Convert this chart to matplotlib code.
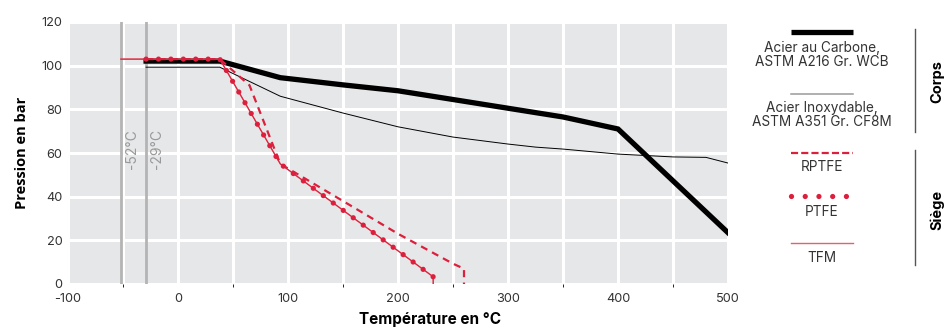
import matplotlib
matplotlib.use("Agg")
import matplotlib.pyplot as plt

plt.rcParams['font.family'] = ['Inter', 'DejaVu Sans']
plt.rcParams['axes.unicode_minus'] = False

# corps (body) ratings
t_wcb = [-29, 38, 93, 150, 200, 250, 300, 350, 400, 500]
p_wcb = [102.1, 102.1, 94.5, 91.2, 88.5, 84.5, 80.5, 76.5, 71, 23.5]
t_cf8m = [-29, 38, 93, 150, 200, 250, 300, 325, 350, 400, 450, 480, 500]
p_cf8m = [99.3, 99.3, 86, 78.3, 72, 67.3, 64.1, 62.7, 61.8, 59.5, 58.2, 58, 55.4]

# siège (seat) ratings
t_rptfe = [-29, 38, 65, 93, 150, 200, 250, 260, 260]
p_rptfe = [103, 103, 91, 55, 38, 23, 9.3, 7, 0]
t_ptfe = [-29, 38, 93, 232, 232]
p_ptfe = [103, 103, 55, 3.3, 0]
t_tfm = [-52, 38, 93, 232, 232]
p_tfm = [103, 103, 55, 3.3, 0]

limits = [-52, -29]
xticks = [-100, 0, 100, 200, 300, 400, 500]
yticks = [0, 20, 40, 60, 80, 100, 120]

red = '#dc1f3c'
red_light = '#e4606c'
txt = '#333333'

fig = plt.figure(figsize=(9.47, 3.29), dpi=100)
ax = fig.add_axes([68/947, 1-284/329, 660/947, 262/329])
ax.set_facecolor('#e6e7e8')
ax.set_xlim(-100, 500)
ax.set_ylim(0, 120)
ax.set_xticks(xticks)
ax.set_yticks(yticks)
ax.set_xticks(range(-50, 500, 100), minor=True)
ax.grid(True, which='both', color='white', lw=2.2)
ax.set_axisbelow(True)
for s in ax.spines.values():
    s.set_visible(False)
ax.tick_params(length=0, labelsize=9.2, labelcolor=txt, pad=4)
ax.tick_params(axis='x', pad=6.5)
ax.set_xlabel('Température en °C', fontsize=11, fontweight='bold')
ax.xaxis.set_label_coords(0.548, -0.105)
ax.set_ylabel('Pression en bar', family=['Open Sans', 'DejaVu Sans'],
              fontsize=10.5, fontweight='bold', labelpad=9)

for t in limits:
    ax.axvline(t, color='#b4b4b4', lw=2, zorder=2)
    ax.text(t + 3.5, 62, f'{t}°C', rotation=90, color='#999999', fontsize=10,
            ha='left', va='center', zorder=2)

ax.plot(t_wcb, p_wcb, color='black', lw=3.8, solid_joinstyle='miter', zorder=3)
ax.plot(t_cf8m, p_cf8m, color='black', lw=0.7, zorder=3)
ax.plot(t_tfm, p_tfm, color=red_light, lw=1.0, zorder=4)
ax.plot(t_tfm, p_tfm, color=red, lw=0.7, zorder=4)
ax.plot(t_rptfe, p_rptfe, color=red, lw=1.6, dashes=[3.2, 2.4], zorder=4)
ax.plot(t_ptfe, p_ptfe, color=red, lw=3.8, linestyle=(0, (0.001, 2.35)),
        dash_capstyle='round', zorder=5)

# legend panel on the right
lg = fig.add_axes([0, 0, 1, 1])
lg.set_xlim(0, 947)
lg.set_ylim(329, 0)
lg.axis('off')
cx = 822
fs = 9.8
lg.plot([791, 853], [32, 32], color='black', lw=3.8, solid_capstyle='butt')
lg.text(cx, 55, 'Acier au Carbone,\nASTM A216 Gr. WCB', ha='center', va='center',
        fontsize=fs, color=txt, linespacing=0.92)
lg.plot([791, 853], [94, 94], color='#9a9a9a', lw=1.1)
lg.text(cx, 115, 'Acier Inoxydable,\nASTM A351 Gr. CF8M', ha='center', va='center',
        fontsize=fs, color=txt, linespacing=0.92)
lg.plot([791, 853], [152.5, 152.5], color=red, lw=1.6, dashes=[3.2, 1.4])
lg.text(cx, 167, 'RPTFE', ha='center', va='center', fontsize=fs, color=txt)
lg.plot([791, 853], [196, 196], color=red, lw=3.8, linestyle=(0, (0.001, 2.6)),
        dash_capstyle='round')
lg.text(cx, 212, 'PTFE', ha='center', va='center', fontsize=fs, color=txt)
lg.plot([791, 853], [243, 243], color=red_light, lw=1.0)
lg.text(cx, 258, 'TFM', ha='center', va='center', fontsize=fs, color=txt)

lg.plot([915, 915], [29, 132], color='#555555', lw=1)
lg.plot([915, 915], [150, 265], color='#555555', lw=1)
lg.text(937, 82, 'Corps', rotation=90, ha='center', va='center', fontsize=10.5,
        fontweight='bold', color='black')
lg.text(937, 210, 'Siège', rotation=90, ha='center', va='center', fontsize=10.5,
        fontweight='bold', color='black')

fig.savefig('out.png', dpi=100)
